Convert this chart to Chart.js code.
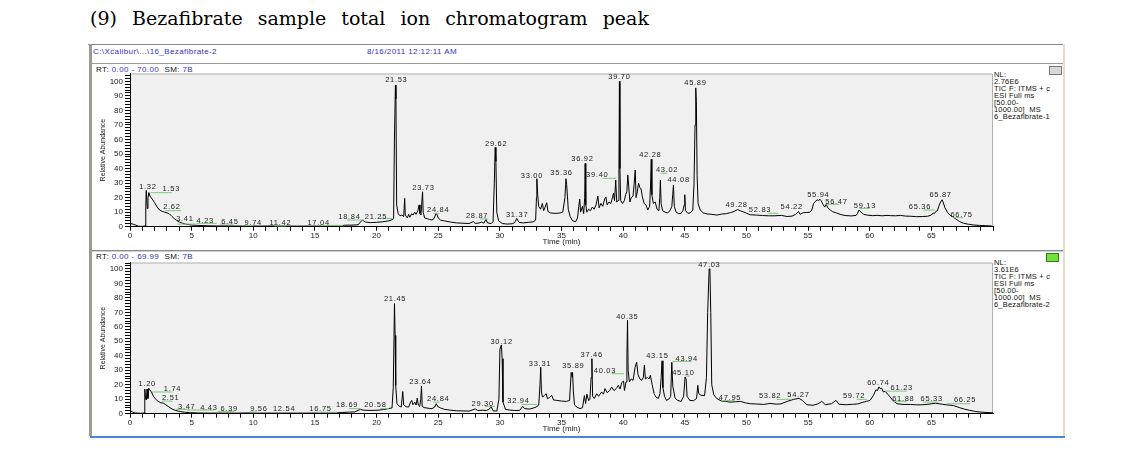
<!DOCTYPE html>
<html>
<head>
<meta charset="utf-8">
<script src="https://cdn.jsdelivr.net/npm/chart.js@4.4.1/dist/chart.umd.min.js"></script>
<style>
  body { margin:0; width:1145px; height:453px; background:#fff; position:relative; overflow:hidden;
         font-family:'Liberation Sans', Arial, sans-serif; }
  .abs { position:absolute; white-space:nowrap; }
  #title { left:90px; top:7px; font-family:'DejaVu Serif', serif; font-size:19px; word-spacing:9px; color:#000; }
  .small { font-size:8px; line-height:8px; color:#111; letter-spacing:0.4px; }
  .blue { color:#3232c8; }
  .info { font-size:7.5px; line-height:7px; color:#111; letter-spacing:0.2px; }
  canvas { position:absolute; }
</style>
</head>
<body>
<div id="title" class="abs">(9) Bezafibrate sample total ion chromatogram peak</div>

<!-- window frame -->
<div class="abs" style="left:88px;top:44px;width:977px;height:1px;background:#8a8a8a"></div>
<div class="abs" style="left:89px;top:44px;width:3px;height:392px;background:#9e9a8e"></div>
<div class="abs" style="left:1063px;top:44px;width:2px;height:393px;background:#e2ddc8"></div>
<div class="abs" style="left:92px;top:63px;width:971px;height:1px;background:#9a9a9a"></div>
<div class="abs" style="left:92px;top:250px;width:971px;height:1px;background:#8a8a8a"></div>
<div class="abs" style="left:92px;top:251px;width:971px;height:1px;background:#d0d0d0"></div>
<div class="abs" style="left:90px;top:436px;width:975px;height:2px;background:#4a86d8"></div>

<div class="abs small blue" style="left:93px;top:48px">C:\Xcalibur\...\16_Bezafibrate-2</div>
<div class="abs small blue" style="left:367px;top:48px">8/16/2011 12:12:11 AM</div>

<div class="abs small" style="left:96px;top:66px">RT: <span class="blue">0.00 - 70.00</span> &nbsp;SM: <span class="blue">7B</span></div>
<div class="abs small" style="left:96px;top:253px">RT: <span class="blue">0.00 - 69.99</span> &nbsp;SM: <span class="blue">7B</span></div>

<div class="abs info" style="left:994px;top:71px">NL:<br>2.76E6<br>TIC F: ITMS + c<br>ESI Full ms<br>[50.00-<br>1000.00] &nbsp;MS<br>6_Bezafibrate-1</div>
<div class="abs info" style="left:994px;top:259px">NL:<br>3.61E6<br>TIC F: ITMS + c<br>ESI Full ms<br>[50.00-<br>1000.00] &nbsp;MS<br>6_Bezafibrate-2</div>

<div class="abs" style="left:1049px;top:66px;width:11px;height:7px;background:#d8d8d8;border:1px solid #777"></div>
<div class="abs" style="left:1046px;top:253px;width:11px;height:7px;background:#6ee23a;border:1px solid #3a7a20"></div>

<canvas id="c1" width="975" height="186" style="left:90px;top:64px"></canvas>
<canvas id="c2" width="975" height="186" style="left:90px;top:251px"></canvas>

<script>
// ---- sample 1 (Bezafibrate-1) ----
const rt1 = [0,0.3,0.7,1.0,1.22,1.28,1.32,1.40,1.46,1.53,1.62,1.8,2.0,2.2,2.4,2.62,2.8,3.0,3.2,3.41,3.6,3.8,4.0,4.23,4.5,5.0,5.5,6.0,6.45,7.0,8.0,9.0,9.74,10.5,11.42,12.5,13.5,15.0,16.0,17.04,17.4,18.0,18.5,18.84,19.1,19.5,20.0,20.5,21.0,21.25,21.38,21.45,21.53,21.57,21.63,21.75,21.9,22.05,22.2,22.28,22.33,22.5,22.6,22.7,22.85,22.95,23.1,23.2,23.35,23.45,23.52,23.6,23.73,23.78,23.9,24.1,24.3,24.5,24.65,24.84,25.0,25.2,25.5,26.0,26.5,27.0,27.5,27.85,28.0,28.3,28.5,28.7,28.87,29.0,29.3,29.45,29.55,29.62,29.68,29.75,29.9,30.2,30.6,31.0,31.2,31.37,31.55,31.9,32.3,32.7,32.9,32.97,33.00,33.07,33.15,33.3,33.45,33.55,33.65,33.8,33.9,34.1,34.4,34.8,35.1,35.28,35.36,35.42,35.48,35.55,35.7,35.9,36.15,36.3,36.4,36.48,36.55,36.7,36.8,36.88,36.92,36.97,37.05,37.2,37.35,37.5,37.65,37.8,37.95,38.05,38.2,38.35,38.5,38.6,38.7,38.85,39.0,39.1,39.22,39.3,39.40,39.48,39.6,39.66,39.70,39.74,39.8,39.95,40.1,40.2,40.3,40.38,40.45,40.55,40.65,40.8,40.9,40.98,41.05,41.15,41.25,41.35,41.45,41.55,41.7,41.85,42.0,42.15,42.22,42.28,42.33,42.45,42.6,42.75,42.9,42.97,43.02,43.08,43.2,43.4,43.6,43.8,43.95,44.02,44.08,44.15,44.3,44.5,44.7,44.85,44.95,45.0,45.06,45.25,45.45,45.65,45.75,45.83,45.89,45.94,46.0,46.08,46.25,46.5,46.8,47.2,47.6,48.0,48.4,48.7,49.0,49.28,49.5,49.9,50.3,50.8,51.3,51.8,52.3,52.83,53.3,53.7,54.0,54.22,54.35,54.6,54.9,55.15,55.3,55.45,55.6,55.75,55.85,55.94,56.05,56.2,56.35,56.47,56.6,56.8,57.0,57.3,57.6,58.0,58.5,58.9,59.0,59.13,59.3,59.5,59.8,60.2,60.6,61.0,61.4,61.7,62.1,62.5,62.9,63.3,63.8,64.3,64.7,65.0,65.15,65.25,65.36,65.5,65.6,65.75,65.87,65.95,66.1,66.3,66.5,66.75,67.0,67.3,67.6,68.0,68.4,68.9,69.4,69.9];
const abundance1 = [2.3,1.6,0.3,0.2,0.5,14,25,12.5,20,23.5,21,19,16.5,13.5,11.5,10.5,10,9.5,8.8,7,5.5,4.2,3.2,2.5,1.8,1.1,0.9,0.7,0.6,0.5,0.5,0.4,0.5,0.4,0.5,0.4,0.4,0.4,0.4,0.5,1.0,1.1,1.3,4.6,3.2,2.8,3.0,3.4,4.0,4.8,5.5,61,97.5,88,15,9,7.5,8,7,19.5,8,6,8.5,6.5,9,8,10,8.5,11,15,9,8,24,10,6,5.5,5,4.6,5.5,9.5,6,4.5,4,3.2,2.6,2.4,2.2,3.5,2.3,2.5,3.2,2.4,5,2.6,2.2,3.5,30,54.5,45,10,4,2.2,1.8,2,2.8,5.7,3,2.6,3,3.3,4.5,20,33,22,14,12,16,11,13,16.5,10.5,9.5,9.2,9.3,10,20,33,29,21,12,7,4,3.5,6,14,19,10,14,9,20,43.5,15,10,12,11,13.5,12,15,21,13,16,14,19,20.5,15,17,16,19,23,18,32,17,18,40,100,40,18,16,18,22,24,35.5,28,17,20,21,30,39,20,24,30,27,26,21,16,15,11.5,14,28,46.5,22,16,17,12,11,20,32,16,11,10,9.5,11,14,22,28.5,14,10,9,9.2,11,15,22,11,9.2,9.5,11.5,30,70,95.5,86,35,16,11.5,9.5,8.8,8.5,8,8.7,9,9.7,10.5,11.8,11,9.7,8.2,8,7.7,7.5,7.5,7.8,7,7.3,8.5,10.5,8.5,9.6,9.8,10,11.5,16,17.5,18.5,17.8,19,18,15.5,13.5,15.5,13,11.5,10.3,9.5,8.5,7.7,7.4,7.8,9,11.5,10,8.5,8,7.6,7.8,7.5,7.8,7.6,7.5,7.8,7.3,7.2,6.9,7,7.2,8,9.5,9,10.5,11,14,17,18.5,17,13,10,8,6.8,5.2,3.5,2.4,1.7,1.2,0.9,0.7,0.5];
const peakText1 = ['1.32','1.53','2.62','3.41','4.23','6.45','9.74','11.42','17.04','18.84','21.25','21.53','23.73','24.84','28.87','29.62','31.37','33.00','35.36','36.92','39.40','39.70','42.28','43.02','44.08','45.89','49.28','52.83','54.22','55.94','56.47','59.13','65.36','65.87','66.75'];
const peakLabelAt1 = [[1.45,27.5],[3.35,26],[3.4,13.5],[4.45,5],[6.1,3.8],[8.1,3.4],[10.0,2.8],[12.2,2.8],[15.3,2.8],[17.8,7],[19.95,7],[21.6,101],[23.8,26.5],[25.0,11.5],[28.15,7.4],[29.7,57],[31.4,8],[32.6,35],[35.0,36.8],[36.7,46.4],[37.9,35.6],[39.7,103],[42.2,49.4],[43.56,39],[44.5,32],[45.86,99],[49.2,15],[51.1,11.5],[53.67,13.8],[55.83,21.8],[57.3,17.2],[59.61,14.2],[64.07,13.3],[65.75,21.8],[67.45,8]];
const leaders1 = [[1.68,3.4,23.4],[2.84,4.16,11],[3.84,5.35,1.8],[5.4,7.05,2.3],[7.3,8.4,1.8],[9.4,10.0,0.9],[11.7,12.7,0.5],[15.5,17.3,0.9],[17.6,18.95,4.6],[20.15,21.35,5.7],[24.6,25.1,9],[28.4,29.07,5.3],[38.36,39.44,33.3],[43.02,43.56,36.8],[51.77,52.58,9.2],[56.45,57.53,15.4],[59.15,60.0,12.6],[64.34,65.29,11.5],[66.78,67.59,6.2]];

// ---- sample 2 (Bezafibrate-2) ----
const rt2 = [0,0.2,0.4,0.8,1.15,1.2,1.27,1.33,1.38,1.45,1.52,1.6,1.74,1.9,2.05,2.2,2.35,2.51,2.7,2.9,3.1,3.3,3.47,3.7,4.0,4.43,4.9,5.5,6.39,7.5,8.5,9.56,10.5,11.5,12.54,13.5,14.5,15.5,16.75,17.2,17.8,18.2,18.69,18.9,19.3,19.8,20.2,20.58,20.95,21.25,21.35,21.45,21.5,21.55,21.65,21.78,22.0,22.12,22.2,22.4,22.6,22.75,22.85,22.95,23.1,23.2,23.3,23.38,23.5,23.58,23.64,23.7,23.85,24.1,24.3,24.5,24.7,24.84,24.95,25.2,25.5,26.0,26.5,27.0,27.5,28.0,28.2,28.6,28.9,29.1,29.3,29.45,29.75,29.92,30.0,30.12,30.18,30.25,30.45,30.8,31.2,31.6,31.85,32.0,32.4,32.7,32.94,33.15,33.25,33.31,33.37,33.45,33.6,33.75,33.85,34.0,34.2,34.35,34.6,35.0,35.4,35.65,35.78,35.85,35.89,35.96,36.05,36.25,36.5,36.7,36.85,36.95,37.05,37.2,37.3,37.4,37.46,37.52,37.65,37.85,38.0,38.25,38.4,38.52,38.7,38.9,39.07,39.25,39.45,39.6,39.75,39.88,40.03,40.1,40.23,40.30,40.35,40.4,40.5,40.65,40.8,40.96,41.09,41.2,41.35,41.5,41.63,41.72,41.8,41.95,42.1,42.2,42.35,42.5,42.65,42.85,42.98,43.08,43.15,43.22,43.35,43.5,43.7,43.85,43.94,44.02,44.2,44.4,44.7,44.9,45.02,45.10,45.18,45.4,45.7,45.95,46.05,46.12,46.3,46.6,46.75,46.85,46.97,47.03,47.1,47.18,47.35,47.6,47.95,48.3,48.66,49.1,49.5,49.9,50.3,50.8,51.4,51.9,52.4,52.8,53.3,53.82,54.27,54.55,54.9,55.4,55.8,56.1,56.4,56.9,57.26,57.5,58.1,58.6,59.0,59.4,59.72,60.02,60.3,60.5,60.62,60.74,60.85,60.95,61.1,61.23,61.45,61.65,61.88,62.2,62.7,63.3,63.8,64.3,64.8,65.33,65.9,66.25,66.8,67.3,67.7,68.1,68.6,69.0,69.5,69.99];
const abundance2 = [2.3,1.2,0.5,0.3,0.4,17,10,9.5,17,10.5,17.5,16.5,15,12,10.4,9,8.2,7.5,7.3,6.2,5,3.8,3,2.2,1.6,1.0,0.7,0.5,0.4,0.4,0.4,0.5,0.4,0.4,0.4,0.4,0.4,0.5,0.6,0.8,1.1,1.2,3,2.5,2.3,2.3,2.5,2.9,3.5,4,18,76,54,19.5,7,5.5,4.6,15.3,6,4.8,4.6,8,9.2,6.2,8,6,10.8,6,5,10,19,5,4.2,3.9,3.6,3.5,4.5,6.9,5,3.9,3,2.4,2,1.9,1.8,3.3,2.2,2.4,2.2,3,4.6,2,1.8,10,44.5,47.5,38,8,3,2.5,2.2,2.3,5,3.5,3.2,3.9,4.6,6,20,32,15,11.5,12.5,13.8,10.4,11,12.7,9.5,9.2,8.7,8.5,9.2,28.5,25,28.5,15,6,4.5,3.5,4.2,12.5,7,13.5,9,10,25,38,12,10.5,13.8,12,15,13.5,17.3,14.5,16,18.4,16,17.5,19.6,17,21.5,22.5,16,22,40,64.5,30,22,24,23,32,35.5,27,24,23,25,33.5,24,25,24,26.5,20,14,11.5,10.5,13.8,25,36.5,18,12,9.2,10,12,35.5,19,11,9.2,8.5,12,25.3,24,12,9.2,9,10.5,19.6,14,12.7,12.5,25,70,100,99.5,70,20,13,10.4,8.8,8.5,8,8.2,8.5,7.5,6.9,6.7,6.4,7.1,6.6,6.8,8.5,9.9,10.6,9,6.2,5.8,6.8,8.5,6.2,6.9,9.2,6.5,6.2,6.5,6.7,7.8,8.5,9.2,12.7,16.5,16,18.5,17.2,17.7,15,15.5,13.5,11.5,9,6.9,6.4,6.4,6.1,6.2,6.6,7.2,6.5,6.1,5.6,4.1,3.1,2.3,1.5,1.1,0.8,0.6];
const peakText2 = ['1.20','1.74','2.51','3.47','4.43','6.39','9.56','12.54','16.75','18.69','20.58','21.45','23.64','24.84','29.30','30.12','32.94','33.31','35.89','37.46','40.03','40.35','43.15','43.94','45.10','47.03','47.95','53.82','54.27','59.72','60.74','61.23','61.88','65.33','66.25'];
const peakLabelAt2 = [[1.4,20.3],[3.45,16.8],[3.3,11],[4.6,5],[6.4,4.2],[8.05,3.5],[10.45,3],[12.5,3],[15.45,3],[17.6,5.8],[19.9,6.2],[21.5,79.4],[23.55,21.9],[25.0,9.9],[28.6,6.9],[30.14,49.5],[31.5,8.5],[33.25,34.5],[35.95,33],[37.44,40.7],[38.52,29.2],[40.33,66.7],[42.77,39.6],[45.15,38],[44.88,28.3],[46.98,102.9],[48.66,10.8],[51.91,12.2],[54.21,13.3],[58.72,12.2],[60.69,21.2],[62.59,17.7],[62.72,10.4],[65.02,9.9],[67.72,9.2]];
const leaders2 = [[1.81,3.45,15],[2.6,3.45,8.7],[3.7,4.8,3],[4.65,6.8,2.5],[7.1,8.45,1.6],[9.7,10.3,1.2],[15.15,16.8,1],[17.75,18.7,3.5],[20.3,21.0,3.5],[24.6,25.1,8],[28.8,29.6,5],[31.76,32.98,6.4],[39.07,40.06,27.6],[43.99,45.55,36.1],[45.02,45.4,26],[47.99,49.07,9],[52.45,53.67,9.9],[58.94,59.75,9.9],[61.24,63.0,15.6],[61.91,63.0,8.5],[64.34,65.56,8],[66.24,68.13,6.9]];

const tickFont = { family: 'Liberation Sans', size: 8 };
const isWhole = v => Math.abs(v - Math.round(v)) < 1e-6;

function labelPlugin(texts, at) {
  return {
    id: 'peaks',
    beforeDraw(chart) {
      const { ctx, chartArea: a } = chart;
      ctx.save();
      ctx.fillStyle = '#f0f0f0';
      ctx.fillRect(a.left, a.top, a.right - a.left, a.bottom - a.top);
      ctx.strokeStyle = '#b0b0b0';
      ctx.lineWidth = 1;
      ctx.beginPath();
      ctx.moveTo(a.left, a.top + 0.5);
      ctx.lineTo(a.right - 0.5, a.top + 0.5);
      ctx.lineTo(a.right - 0.5, a.bottom);
      ctx.stroke();
      ctx.restore();
    },
    afterDatasetsDraw(chart) {
      const { ctx, scales: { x, y } } = chart;
      ctx.save();
      ctx.font = '7.5px "Liberation Sans"';
      ctx.letterSpacing = '0.7px';
      ctx.fillStyle = '#222';
      ctx.textAlign = 'center';
      ctx.textBaseline = 'middle';
      texts.forEach((s, i) => {
        ctx.fillText(s, x.getPixelForValue(at[i][0]), y.getPixelForValue(at[i][1]));
      });
      ctx.restore();
    }
  };
}

function makePanel(id, rt, ab, texts, at, leaders, xMax, yMax, top) {
  const trace = rt.map((t, i) => ({ x: t, y: ab[i] }));
  const leaderPts = leaders.flatMap(([a, b, v]) => [{ x: a, y: v }, { x: b, y: v }, { x: b, y: null }]);
  return new Chart(document.getElementById(id).getContext('2d'), {
    type: 'line',
    data: {
      datasets: [
        { data: leaderPts, borderColor: '#7cc97c', borderWidth: 1, pointRadius: 0, spanGaps: false },
        { data: trace, borderColor: '#000', borderWidth: 1, pointRadius: 0, tension: 0 }
      ]
    },
    options: {
      responsive: false,
      animation: false,
      devicePixelRatio: 1,
      layout: { padding: { left: 0, right: 72, top: top, bottom: 0 } },
      plugins: { legend: { display: false }, tooltip: { enabled: false } },
      scales: {
        x: {
          type: 'linear', min: 0, max: xMax,
          afterFit: s => { s.height = 23.3; },
          ticks: {
            stepSize: 1, autoSkip: false, includeBounds: false, maxRotation: 0, padding: 0, font: tickFont, color: '#222',
            callback: v => (isWhole(v) && Math.round(v) % 5 === 0 && v < 69.5) ? Math.round(v) : ''
          },
          grid: { drawOnChartArea: false, tickLength: 4, color: '#000' },
          border: { color: '#000' },
          title: { display: true, text: 'Time (min)', font: { family: 'Liberation Sans', size: 8 }, color: '#222', padding: { top: 0, bottom: 3 } }
        },
        y: {
          min: 0, max: yMax,
          afterFit: s => { s.width = 40; },
          ticks: {
            stepSize: 2, autoSkip: false, includeBounds: false, padding: 2, font: tickFont, color: '#222',
            callback: v => (isWhole(v) && Math.round(v) % 10 === 0) ? Math.round(v) : ''
          },
          grid: { drawOnChartArea: false, tickLength: 5, color: '#000' },
          border: { color: '#000' },
          title: { display: true, text: 'Relative Abundance', font: { family: 'Liberation Sans', size: 7 }, color: '#222', padding: { top: 9, bottom: 0 } }
        }
      }
    },
    plugins: [labelPlugin(texts, at)]
  });
}

makePanel('c1', rt1, abundance1, peakText1, peakLabelAt1, leaders1, 70, 105.4, 9.5);
makePanel('c2', rt2, abundance2, peakText2, peakLabelAt2, leaders2, 69.99, 104.4, 11.5);
</script>
</body>
</html>
